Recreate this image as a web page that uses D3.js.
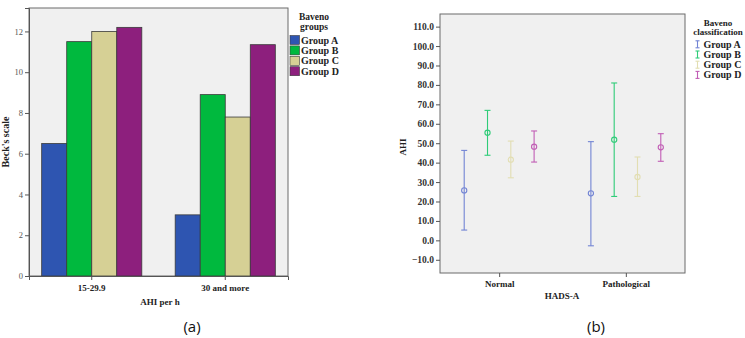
<!DOCTYPE html>
<html>
<head>
<meta charset="utf-8">
<script src="https://cdn.jsdelivr.net/npm/d3@7"></script>
<style>
  body { margin: 0; background: #ffffff; }
  svg { display: block; }
  text { font-family: "Liberation Serif", "DejaVu Serif", serif; }
</style>
</head>
<body>
<div id="chart"></div>
<script>
// ---- data ----
var groups = ["Group A", "Group B", "Group C", "Group D"];

// (a) Beck's scale by AHI per h
var ahiCategories = ["15-29.9", "30 and more"];
var beckGroupA = [6.5, 3.0];
var beckGroupB = [11.5, 8.9];
var beckGroupC = [12.0, 7.8];
var beckGroupD = [12.2, 11.35];
var beckTicks = [0, 2, 4, 6, 8, 10, 12];

// (b) AHI by HADS-A, mean with error bars
var hadsCategories = ["Normal", "Pathological"];
var ahiMeanNormal = [25.7, 55.4, 41.5, 48.2];
var ahiLowNormal = [5.3, 43.8, 32.2, 40.3];
var ahiHighNormal = [46.3, 66.9, 51.1, 56.3];
var ahiMeanPath = [24.2, 51.8, 32.6, 47.9];
var ahiLowPath = [-2.8, 22.6, 22.6, 40.7];
var ahiHighPath = [50.8, 81.0, 42.9, 54.9];
var ahiTicks = [-10, 0, 10, 20, 30, 40, 50, 60, 70, 80, 90, 100, 110];

var barColors = ["#2e55b1", "#00b93e", "#d6d095", "#8d1f7d"];
var errColors = ["#7284d4", "#2fcc78", "#e2deb2", "#c15db5"];

var svg = d3.select("#chart").append("svg")
    .attr("width", 745)
    .attr("height", 338);

// ================= chart (a) =================
var a = { left: 29, right: 288, top: 8, bottom: 276 };

var x0 = d3.scaleBand().domain(ahiCategories)
    .range([a.left, a.right]).paddingInner(0.25).paddingOuter(0.095);
var x1 = d3.scaleBand().domain(groups).range([0, x0.bandwidth()]);
var yA = d3.scaleLinear().domain([0, 13.15]).range([a.bottom, a.top]);

svg.append("rect")
    .attr("x", a.left).attr("y", a.top)
    .attr("width", a.right - a.left).attr("height", a.bottom - a.top)
    .attr("fill", "#f0f0f0").attr("stroke", "#6b6b6b").attr("stroke-width", 1);

var barData = [];
ahiCategories.forEach(function (c, i) {
    [beckGroupA, beckGroupB, beckGroupC, beckGroupD].forEach(function (arr, g) {
        barData.push({ cat: c, group: groups[g], value: arr[i], color: barColors[g] });
    });
});

svg.selectAll(".bar").data(barData).enter()
    .append("rect")
    .attr("class", "bar")
    .attr("x", function (d) { return x0(d.cat) + x1(d.group); })
    .attr("y", function (d) { return yA(d.value); })
    .attr("width", x1.bandwidth())
    .attr("height", function (d) { return yA(0) - yA(d.value); })
    .attr("fill", function (d) { return d.color; })
    .attr("stroke", "#3a3a3a").attr("stroke-width", 0.8);

var axA = svg.append("g")
    .attr("transform", "translate(" + a.left + ",0)")
    .call(d3.axisLeft(yA).tickValues(beckTicks).tickSize(4).tickPadding(2));
axA.select(".domain").attr("stroke", "#555");
axA.selectAll("line").attr("stroke", "#555");
axA.selectAll("text").style("font-size", "8.5px").attr("fill", "#555");

var axAx = svg.append("g")
    .attr("transform", "translate(0," + a.bottom + ")")
    .call(d3.axisBottom(x0).tickSize(4).tickPadding(5));
axAx.select(".domain").attr("stroke", "#555");
axAx.selectAll("line").attr("stroke", "#555");
axAx.selectAll("text").style("font-size", "9px").style("font-weight", "bold").attr("fill", "#222");

svg.append("text")
    .attr("transform", "translate(9,142) rotate(-90)")
    .attr("text-anchor", "middle")
    .style("font-size", "10px").style("font-weight", "bold").attr("fill", "#222")
    .text("Beck's scale");

svg.append("text")
    .attr("x", 160).attr("y", 305)
    .attr("text-anchor", "middle")
    .style("font-size", "9px").style("font-weight", "bold").attr("fill", "#222")
    .text("AHI per h");

// legend (a)
svg.append("text").attr("x", 314).attr("y", 20).attr("text-anchor", "middle")
    .style("font-size", "9.5px").style("font-weight", "bold").attr("fill", "#222").text("Baveno");
svg.append("text").attr("x", 314).attr("y", 30).attr("text-anchor", "middle")
    .style("font-size", "9.5px").style("font-weight", "bold").attr("fill", "#222").text("groups");

var legA = svg.selectAll(".legA").data(groups).enter().append("g")
    .attr("class", "legA")
    .attr("transform", function (d, i) { return "translate(290," + (35.5 + i * 10.4) + ")"; });
legA.append("rect").attr("width", 9.5).attr("height", 9)
    .attr("fill", function (d, i) { return barColors[i]; })
    .attr("stroke", "#3a3a3a").attr("stroke-width", 0.6);
legA.append("text").attr("x", 11).attr("y", 8)
    .style("font-size", "10px").style("font-weight", "bold").attr("fill", "#222")
    .text(function (d) { return d; });

// ================= chart (b) =================
var b = { left: 440, right: 685, top: 14, bottom: 273 };

var xB = d3.scalePoint().domain(hadsCategories).range([b.left, b.right]).padding(0.467);
var yB = d3.scaleLinear().domain([-16.8, 116.5]).range([b.bottom, b.top]);
var offset = 23.3;

svg.append("rect")
    .attr("x", b.left).attr("y", b.top)
    .attr("width", b.right - b.left).attr("height", b.bottom - b.top)
    .attr("fill", "#f0f0f0").attr("stroke", "#6b6b6b").attr("stroke-width", 1);

var errData = [];
[[ahiMeanNormal, ahiLowNormal, ahiHighNormal], [ahiMeanPath, ahiLowPath, ahiHighPath]]
    .forEach(function (set, i) {
        groups.forEach(function (g, k) {
            errData.push({
                cat: hadsCategories[i], k: k,
                mean: set[0][k], low: set[1][k], high: set[2][k],
                color: errColors[k]
            });
        });
    });

function ex(d) { return xB(d.cat) + (d.k - 1.5) * offset; }

var eb = svg.selectAll(".err").data(errData).enter().append("g").attr("class", "err");
eb.append("line")
    .attr("x1", ex).attr("x2", ex)
    .attr("y1", function (d) { return yB(d.low); })
    .attr("y2", function (d) { return yB(d.high); })
    .attr("stroke", function (d) { return d.color; }).attr("stroke-width", 1.1);
["low", "high"].forEach(function (key) {
    eb.append("line")
        .attr("x1", function (d) { return ex(d) - 3; })
        .attr("x2", function (d) { return ex(d) + 3; })
        .attr("y1", function (d) { return yB(d[key]); })
        .attr("y2", function (d) { return yB(d[key]); })
        .attr("stroke", function (d) { return d.color; }).attr("stroke-width", 1.1);
});
eb.append("circle")
    .attr("cx", ex)
    .attr("cy", function (d) { return yB(d.mean); })
    .attr("r", 2.6)
    .attr("fill", "none")
    .attr("stroke", function (d) { return d.color; }).attr("stroke-width", 1.1);

var axB = svg.append("g")
    .attr("transform", "translate(" + b.left + ",0)")
    .call(d3.axisLeft(yB).tickValues(ahiTicks).tickSize(4).tickPadding(2)
        .tickFormat(d3.format(".1f")));
axB.select(".domain").remove();
axB.selectAll("line").attr("stroke", "#555");
axB.selectAll("text").style("font-size", "9.5px").style("font-weight", "bold").attr("fill", "#333");

var axBx = svg.append("g")
    .attr("transform", "translate(0," + b.bottom + ")")
    .call(d3.axisBottom(xB).tickSize(4).tickPadding(4));
axBx.select(".domain").remove();
axBx.selectAll("line").attr("stroke", "#555");
axBx.selectAll("text").style("font-size", "9px").style("font-weight", "bold").attr("fill", "#222");

svg.append("text")
    .attr("transform", "translate(406,147) rotate(-90)")
    .attr("text-anchor", "middle")
    .style("font-size", "9px").style("font-weight", "bold").attr("fill", "#222")
    .text("AHI");

svg.append("text")
    .attr("x", 562).attr("y", 299)
    .attr("text-anchor", "middle")
    .style("font-size", "9px").style("font-weight", "bold").attr("fill", "#222")
    .text("HADS-A");

// legend (b)
svg.append("text").attr("x", 718).attr("y", 26).attr("text-anchor", "middle")
    .style("font-size", "9px").style("font-weight", "bold").attr("fill", "#222").text("Baveno");
svg.append("text").attr("x", 718).attr("y", 35).attr("text-anchor", "middle")
    .style("font-size", "9px").style("font-weight", "bold").attr("fill", "#222").text("classification");

var legB = svg.selectAll(".legB").data(groups).enter().append("g")
    .attr("class", "legB")
    .attr("transform", function (d, i) { return "translate(697.5," + (44.3 + i * 10.2) + ")"; });
legB.append("line").attr("x1", 0).attr("x2", 0).attr("y1", -3.5).attr("y2", 3.5)
    .attr("stroke", function (d, i) { return errColors[i]; }).attr("stroke-width", 1.1);
legB.append("line").attr("x1", -2).attr("x2", 2).attr("y1", -3.5).attr("y2", -3.5)
    .attr("stroke", function (d, i) { return errColors[i]; }).attr("stroke-width", 1.1);
legB.append("line").attr("x1", -2).attr("x2", 2).attr("y1", 3.5).attr("y2", 3.5)
    .attr("stroke", function (d, i) { return errColors[i]; }).attr("stroke-width", 1.1);
legB.append("text").attr("x", 6).attr("y", 3.3)
    .style("font-size", "10px").style("font-weight", "bold").attr("fill", "#222")
    .text(function (d) { return d; });

// captions
svg.append("text").attr("x", 192).attr("y", 332).attr("text-anchor", "middle")
    .style("font-family", "'Open Sans', sans-serif").style("font-size", "15px").attr("fill", "#111")
    .text("(a)");
svg.append("text").attr("x", 596).attr("y", 332).attr("text-anchor", "middle")
    .style("font-family", "'Open Sans', sans-serif").style("font-size", "15px").attr("fill", "#111")
    .text("(b)");
</script>
</body>
</html>
